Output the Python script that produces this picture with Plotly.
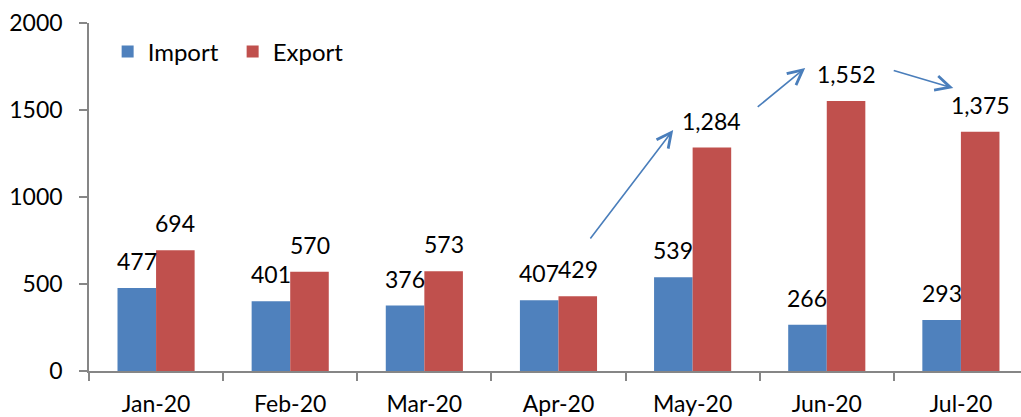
import plotly.graph_objects as go

months = ["Jan-20", "Feb-20", "Mar-20", "Apr-20", "May-20", "Jun-20", "Jul-20"]
import_vals = [477, 401, 376, 407, 539, 266, 293]
export_vals = [694, 570, 573, 429, 1284, 1552, 1375]
y_ticks = [0, 500, 1000, 1500, 2000]

IMPORT_C = "#4f81bd"
EXPORT_C = "#c0504d"
ARROW_C = "#4a7ebb"
AXIS_C = "#868686"
FONT = "Lato"

fig = go.Figure()
fig.add_trace(go.Bar(name="Import", x=months, y=import_vals, marker_color=IMPORT_C,
                     marker_line_width=0))
fig.add_trace(go.Bar(name="Export", x=months, y=export_vals, marker_color=EXPORT_C,
                     marker_line_width=0))

# data labels
annotations = []
for series, shift in ((import_vals, -19.3), (export_vals, 19.3)):
    for m, v in zip(months, series):
        annotations.append(dict(x=m, y=v, xref="x", yref="y", text=f"{v:,}",
                                showarrow=False, xshift=shift, yshift=27,
                                yanchor="middle", xanchor="center",
                                font=dict(family=FONT, size=23, color="black")))

# trend arrows (tail -> tip), in data coordinates
arrows = [((3.229, 753), (3.855, 1385)),
          ((4.474, 1511), (4.839, 1741)),
          ((5.488, 1730), (5.943, 1626))]
for (tx, ty), (hx, hy) in arrows:
    annotations.append(dict(x=hx, y=hy, ax=tx, ay=ty, xref="x", yref="y",
                            axref="x", ayref="y", text="", showarrow=True,
                            arrowhead=5, arrowsize=1.8, arrowwidth=1.6,
                            arrowcolor=ARROW_C, standoff=0, startstandoff=0))

fig.update_layout(
    width=1021, height=417,
    margin=dict(l=89, r=0, t=23, b=46, autoexpand=False),
    paper_bgcolor="white", plot_bgcolor="white",
    barmode="group", bargap=0.425, bargroupgap=0,
    font=dict(family=FONT, size=23, color="black"),
    legend=dict(orientation="h", x=0.02, y=0.917, xanchor="left", yanchor="middle",
                font=dict(family=FONT, size=24, color="black"),
                entrywidth=80, entrywidthmode="pixels",
                bgcolor="rgba(0,0,0,0)"),
    annotations=annotations,
    showlegend=True,
)
fig.update_xaxes(type="category", categoryorder="array", categoryarray=months,
                 range=[-0.5, 6.448], showline=True, linecolor=AXIS_C, linewidth=1.5,
                 ticks="outside", tickson="boundaries", ticklen=8, tickcolor=AXIS_C,
                 tickwidth=1.5, showgrid=False, ticklabelstandoff=12, automargin=False,
                 tickfont=dict(family=FONT, size=23, color="black"))
fig.update_yaxes(range=[0, 2000], tickvals=y_ticks, showline=True, linecolor=AXIS_C,
                 linewidth=1.5, ticks="outside", ticklen=8, tickcolor=AXIS_C, tickwidth=1.5,
                 showgrid=False, zeroline=False, ticklabelstandoff=12, automargin=False,
                 tickfont=dict(family=FONT, size=23, color="black"))

fig.write_html("out.html", config={"displayModeBar": False},
               post_script="document.body.style.margin='0';document.body.style.overflow='hidden';")
